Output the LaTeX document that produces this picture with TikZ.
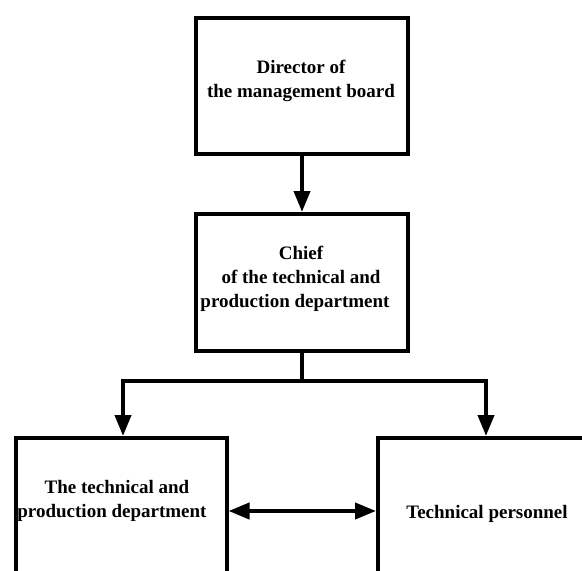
\documentclass[tikz,border=0pt]{standalone}
\usepackage{fontspec}
\setmainfont{Liberation Serif}
\usetikzlibrary{arrows.meta}
\begin{document}
\begin{tikzpicture}[x=1pt,y=-1pt,
  box/.style={draw=black,line width=4pt,rectangle,inner sep=0pt,fill=white},
  txt/.style={align=center,font=\bfseries\fontsize{19}{24}\selectfont,inner sep=0pt},
  line/.style={draw=black,line width=4pt,line join=miter},
  arr/.style={line,-{Triangle[length=21pt,width=16pt]}},
  arrtwo/.style={line,{Triangle[length=21pt,width=16pt]}-{Triangle[length=21pt,width=16pt]}}]
\useasboundingbox (0,0) rectangle (582,571);
\clip (0,0) rectangle (582,571);
\fill[white] (0,0) rectangle (582,571);
% boxes
\node[box,minimum width=212pt,minimum height=136pt] (top) at (302,86) {};
\node[box,minimum width=212pt,minimum height=137pt] (mid) at (302,282.5) {};
\node[box,minimum width=211pt,minimum height=138pt] (left) at (121,507) {};
\node[box,minimum width=214pt,minimum height=138pt] (right) at (485,507) {};
% texts
\node[txt] (ttop) at (301,81) {Director of\\the management board};
\node[txt] (tmid) at (301,279) {Chief\\of the technical and\\production department\hspace*{12pt}};
\node[txt] (tleft) at (117,500.5) {The technical and\\production department\hspace*{10pt}};
\node[txt] (tright) at (487,514) {Technical personnel};
% connectors
\coordinate (busL) at (123,381);
\coordinate (busR) at (486,381);
\coordinate (ar) at (0,511);
\draw[arr] (top.south) -- (mid.north);
\draw[arr] (mid.south) |- (busL) -- (busL |- left.north);
\draw[arr] (mid.south) |- (busR) -- (busR |- right.north);
\draw[arrtwo] (left.east |- ar) -- (right.west |- ar);
\end{tikzpicture}
\end{document}
